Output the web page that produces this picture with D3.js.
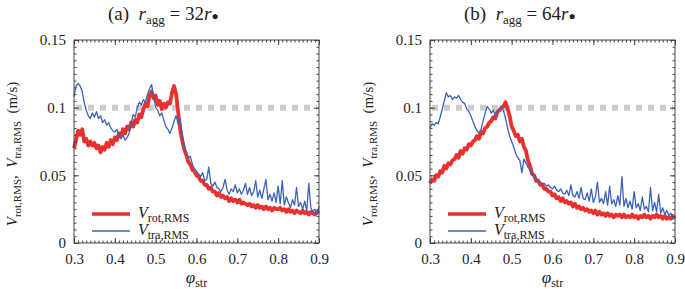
<!DOCTYPE html>
<html lang="en">
<head>
<meta charset="UTF-8">
<title>V_rot,RMS and V_tra,RMS vs phi_str</title>
<style>
    body { margin: 0; background: #fff; }
    text { font-family: 'Liberation Serif', 'DejaVu Serif', serif; fill: #222; }
</style>
</head>
<body>
<svg id="chart" width="685" height="289"></svg>
<script src="https://d3js.org/d3.v7.min.js"></script>
<script>
// sampling grid of phi_str (0.300 .. 0.900, every 0.005)
const phiStr = d3.range(0, 121).map(i => +(0.3 + i * 0.005).toFixed(3));

const xTicks = [0.3, 0.4, 0.5, 0.6, 0.7, 0.8, 0.9];
const yTicks = [0, 0.05, 0.1, 0.15];
const refLevel = 0.1;

// (a) r_agg = 32 r
const rotA = [
    0.070, 0.076, 0.083, 0.080, 0.084, 0.075, 0.077, 0.072, 0.075, 0.072,
    0.074, 0.070, 0.072, 0.067, 0.071, 0.069, 0.074, 0.071, 0.076, 0.073,
    0.078, 0.076, 0.081, 0.079, 0.084, 0.081, 0.086, 0.084, 0.089, 0.086,
    0.091, 0.089, 0.095, 0.093, 0.099, 0.103, 0.101, 0.109, 0.112, 0.107,
    0.109, 0.102, 0.105, 0.099, 0.103, 0.100, 0.104, 0.103, 0.111, 0.116,
    0.110, 0.097, 0.084, 0.076, 0.069, 0.065, 0.060, 0.058, 0.054, 0.053,
    0.050, 0.049, 0.046, 0.046, 0.043, 0.043, 0.040, 0.041, 0.038, 0.038,
    0.035, 0.037, 0.034, 0.035, 0.033, 0.034, 0.031, 0.033, 0.031, 0.032,
    0.030, 0.032, 0.029, 0.030, 0.029, 0.028, 0.029, 0.027, 0.028, 0.026,
    0.028, 0.026, 0.027, 0.025, 0.027, 0.025, 0.026, 0.024, 0.026, 0.025,
    0.025, 0.026, 0.024, 0.025, 0.023, 0.025, 0.023, 0.024, 0.022, 0.024,
    0.023, 0.022, 0.024, 0.022, 0.023, 0.021, 0.023, 0.022, 0.021, 0.023,
    0.022
];
const traA = [
    0.108, 0.116, 0.118, 0.116, 0.112, 0.104, 0.098, 0.094, 0.092, 0.096,
    0.093, 0.097, 0.092, 0.094, 0.089, 0.091, 0.087, 0.089, 0.085, 0.083,
    0.082, 0.084, 0.079, 0.077, 0.080, 0.076, 0.078, 0.081, 0.088, 0.095,
    0.093, 0.100, 0.104, 0.102, 0.106, 0.104, 0.110, 0.114, 0.117, 0.108,
    0.100, 0.098, 0.094, 0.096, 0.091, 0.086, 0.084, 0.081, 0.085, 0.090,
    0.094, 0.088, 0.092, 0.080, 0.072, 0.066, 0.063, 0.064, 0.058, 0.055,
    0.053, 0.051, 0.049, 0.052, 0.046, 0.047, 0.056, 0.044, 0.042, 0.045,
    0.041, 0.040, 0.038, 0.041, 0.047, 0.039, 0.036, 0.040, 0.038, 0.043,
    0.037, 0.040, 0.036, 0.039, 0.044, 0.036, 0.041, 0.035, 0.038, 0.046,
    0.034, 0.039, 0.033, 0.040, 0.047, 0.032, 0.036, 0.031, 0.037, 0.030,
    0.042, 0.029, 0.046, 0.028, 0.034, 0.030, 0.026, 0.032, 0.028, 0.041,
    0.027, 0.030, 0.025, 0.031, 0.024, 0.044, 0.026, 0.023, 0.025, 0.021,
    0.027
];

// (b) r_agg = 64 r
const rotB = [
    0.044, 0.047, 0.046, 0.050, 0.049, 0.053, 0.052, 0.057, 0.055, 0.059,
    0.058, 0.061, 0.062, 0.065, 0.063, 0.068, 0.066, 0.070, 0.069, 0.073,
    0.072, 0.075, 0.076, 0.079, 0.077, 0.082, 0.081, 0.085, 0.086, 0.089,
    0.090, 0.093, 0.092, 0.097, 0.098, 0.100, 0.101, 0.104, 0.099, 0.094,
    0.086, 0.083, 0.079, 0.080, 0.075, 0.077, 0.071, 0.068, 0.061, 0.057,
    0.051, 0.050, 0.046, 0.046, 0.043, 0.043, 0.040, 0.040, 0.038, 0.038,
    0.035, 0.036, 0.033, 0.034, 0.031, 0.033, 0.030, 0.031, 0.029, 0.030,
    0.027, 0.029, 0.026, 0.027, 0.025, 0.026, 0.024, 0.025, 0.023, 0.024,
    0.022, 0.024, 0.021, 0.023, 0.021, 0.022, 0.020, 0.022, 0.020, 0.021,
    0.019, 0.021, 0.020, 0.021, 0.019, 0.021, 0.019, 0.020, 0.019, 0.021,
    0.019, 0.020, 0.018, 0.020, 0.019, 0.021, 0.019, 0.020, 0.018, 0.020,
    0.019, 0.021, 0.019, 0.020, 0.018, 0.020, 0.018, 0.019, 0.018, 0.020,
    0.018
];
const traB = [
    0.085, 0.088, 0.087, 0.089, 0.088, 0.093, 0.099, 0.105, 0.111, 0.108,
    0.109, 0.106, 0.108, 0.107, 0.109, 0.106, 0.104, 0.103, 0.099, 0.097,
    0.094, 0.090, 0.086, 0.083, 0.081, 0.084, 0.090, 0.096, 0.101, 0.099,
    0.096, 0.098, 0.094, 0.097, 0.099, 0.101, 0.098, 0.092, 0.085, 0.079,
    0.075, 0.071, 0.066, 0.063, 0.061, 0.052, 0.062, 0.059, 0.056, 0.054,
    0.051, 0.049, 0.048, 0.046, 0.045, 0.044, 0.044, 0.042, 0.043, 0.041,
    0.040, 0.042, 0.039, 0.038, 0.040, 0.037, 0.036, 0.039, 0.035, 0.043,
    0.035, 0.034, 0.038, 0.033, 0.041, 0.033, 0.032, 0.037, 0.031, 0.040,
    0.030, 0.034, 0.045, 0.030, 0.033, 0.029, 0.038, 0.028, 0.042, 0.029,
    0.032, 0.027, 0.035, 0.028, 0.049, 0.027, 0.033, 0.026, 0.031, 0.025,
    0.038, 0.026, 0.029, 0.024, 0.034, 0.025, 0.027, 0.023, 0.041, 0.024,
    0.030, 0.023, 0.036, 0.022, 0.026, 0.021, 0.024, 0.020, 0.022, 0.018,
    0.019
];

const panels = [
    { tag: "(a)", size: "32", rot: rotA, tra: traA, left: 74 },
    { tag: "(b)", size: "64", rot: rotB, tra: traB, left: 430 }
];

const RED = "#e8312f";
const BLUE = "#3a63b8";
const AXIS = "#444";

const svg = d3.select("#chart");
const plotW = 245, plotTop = 40, plotBottom = 243;

panels.forEach(p => {
    const x = d3.scaleLinear().domain([0.3, 0.9]).range([p.left, p.left + plotW]);
    const y = d3.scaleLinear().domain([0, 0.15]).range([plotBottom, plotTop]);
    const g = svg.append("g");

    // reference level (grey squares)
    g.append("line")
        .attr("x1", x(0.3) + 2).attr("x2", x(0.9) - 2)
        .attr("y1", y(refLevel)).attr("y2", y(refLevel))
        .attr("stroke", "#cccccc").attr("stroke-width", 6)
        .attr("stroke-dasharray", "6,6");

    const line = d3.line().x((d, i) => x(phiStr[i])).y(d => y(d));

    g.append("path").datum(p.rot).attr("d", line)
        .attr("fill", "none").attr("stroke", RED).attr("stroke-width", 3.8)
        .attr("stroke-linejoin", "round");
    g.append("path").datum(p.tra).attr("d", line)
        .attr("fill", "none").attr("stroke", BLUE).attr("stroke-width", 1.3)
        .attr("stroke-linejoin", "round");

    // frame
    g.append("rect")
        .attr("x", x(0.3)).attr("y", y(0.15))
        .attr("width", x(0.9) - x(0.3)).attr("height", y(0) - y(0.15))
        .attr("fill", "none").attr("stroke", AXIS).attr("stroke-width", 1);

    // ticks (inward, all four sides)
    const minorX = d3.range(30, 91).map(v => v / 100);
    const minorY = d3.range(0, 31).map(v => v / 200);
    const addAxis = (axis, tr) => {
        const a = g.append("g").attr("transform", tr).call(axis);
        a.attr("font-family", null);
        a.select(".domain").remove();
        a.selectAll("line").attr("stroke", AXIS);
        return a;
    };
    addAxis(d3.axisBottom(x).tickValues(minorX).tickSize(-2.5).tickFormat(""), `translate(0,${plotBottom})`);
    addAxis(d3.axisTop(x).tickValues(minorX).tickSize(-2.5).tickFormat(""), `translate(0,${plotTop})`);
    addAxis(d3.axisLeft(y).tickValues(minorY).tickSize(-2.5).tickFormat(""), `translate(${x(0.3)},0)`);
    addAxis(d3.axisRight(y).tickValues(minorY).tickSize(-2.5).tickFormat(""), `translate(${x(0.9)},0)`);
    addAxis(d3.axisTop(x).tickValues(xTicks).tickSize(-5).tickFormat(""), `translate(0,${plotTop})`);
    addAxis(d3.axisRight(y).tickValues(yTicks).tickSize(-5).tickFormat(""), `translate(${x(0.9)},0)`);

    const xa = addAxis(d3.axisBottom(x).tickValues(xTicks).tickSize(-5).tickPadding(10)
        .tickFormat(d => d3.format(".1f")(d)), `translate(0,${plotBottom})`);
    xa.selectAll("text").attr("font-size", 15);

    const ya = addAxis(d3.axisLeft(y).tickValues(yTicks).tickSize(-5).tickPadding(8)
        .tickFormat(d => d === 0 ? "0" : String(d)), `translate(${x(0.3)},0)`);
    ya.selectAll("text").attr("font-size", 15);

    // title
    const t = g.append("text").attr("x", p.left + 34).attr("y", 20).attr("font-size", 19);
    t.append("tspan").text(p.tag + "\u2002");
    t.append("tspan").attr("font-style", "italic").text("r");
    t.append("tspan").attr("font-size", 13).attr("dy", 4).text("agg");
    t.append("tspan").attr("dy", -4).text(" = " + p.size);
    t.append("tspan").attr("font-style", "italic").text("r");
    t.append("tspan").attr("font-size", 12).text("\u25CF");

    // x label
    const xl = g.append("text").attr("x", x(0.6)).attr("y", 283)
        .attr("text-anchor", "middle").attr("font-size", 17);
    xl.append("tspan").attr("font-style", "italic").text("\u03C6");
    xl.append("tspan").attr("font-size", 12).attr("dy", 4).text("str");

    // y label
    const yl = g.append("text")
        .attr("transform", `translate(${p.left - 57},154) rotate(-90)`)
        .attr("text-anchor", "middle").attr("font-size", 15);
    yl.append("tspan").attr("font-style", "italic").text("V");
    yl.append("tspan").attr("font-size", 11).attr("dy", 4).text("rot,RMS");
    yl.append("tspan").attr("dy", -4).text(",\u2002");
    yl.append("tspan").attr("font-style", "italic").text("V");
    yl.append("tspan").attr("font-size", 11).attr("dy", 4).text("tra,RMS");
    yl.append("tspan").attr("dy", -4).text("\u2002(m/s)");

    // legend
    const legend = [
        { name: "rot,RMS", color: RED, w: 3.5, dy: 0 },
        { name: "tra,RMS", color: BLUE, w: 1.5, dy: 17 }
    ];
    legend.forEach(l => {
        const ly = 214 + l.dy;
        g.append("line")
            .attr("x1", p.left + 18).attr("x2", p.left + 56)
            .attr("y1", ly).attr("y2", ly)
            .attr("stroke", l.color).attr("stroke-width", l.w);
        const lt = g.append("text").attr("x", p.left + 64).attr("y", ly + 4).attr("font-size", 16);
        lt.append("tspan").attr("font-style", "italic").text("V");
        lt.append("tspan").attr("font-size", 12).attr("dy", 4).text(l.name);
    });
});
</script>
</body>
</html>
